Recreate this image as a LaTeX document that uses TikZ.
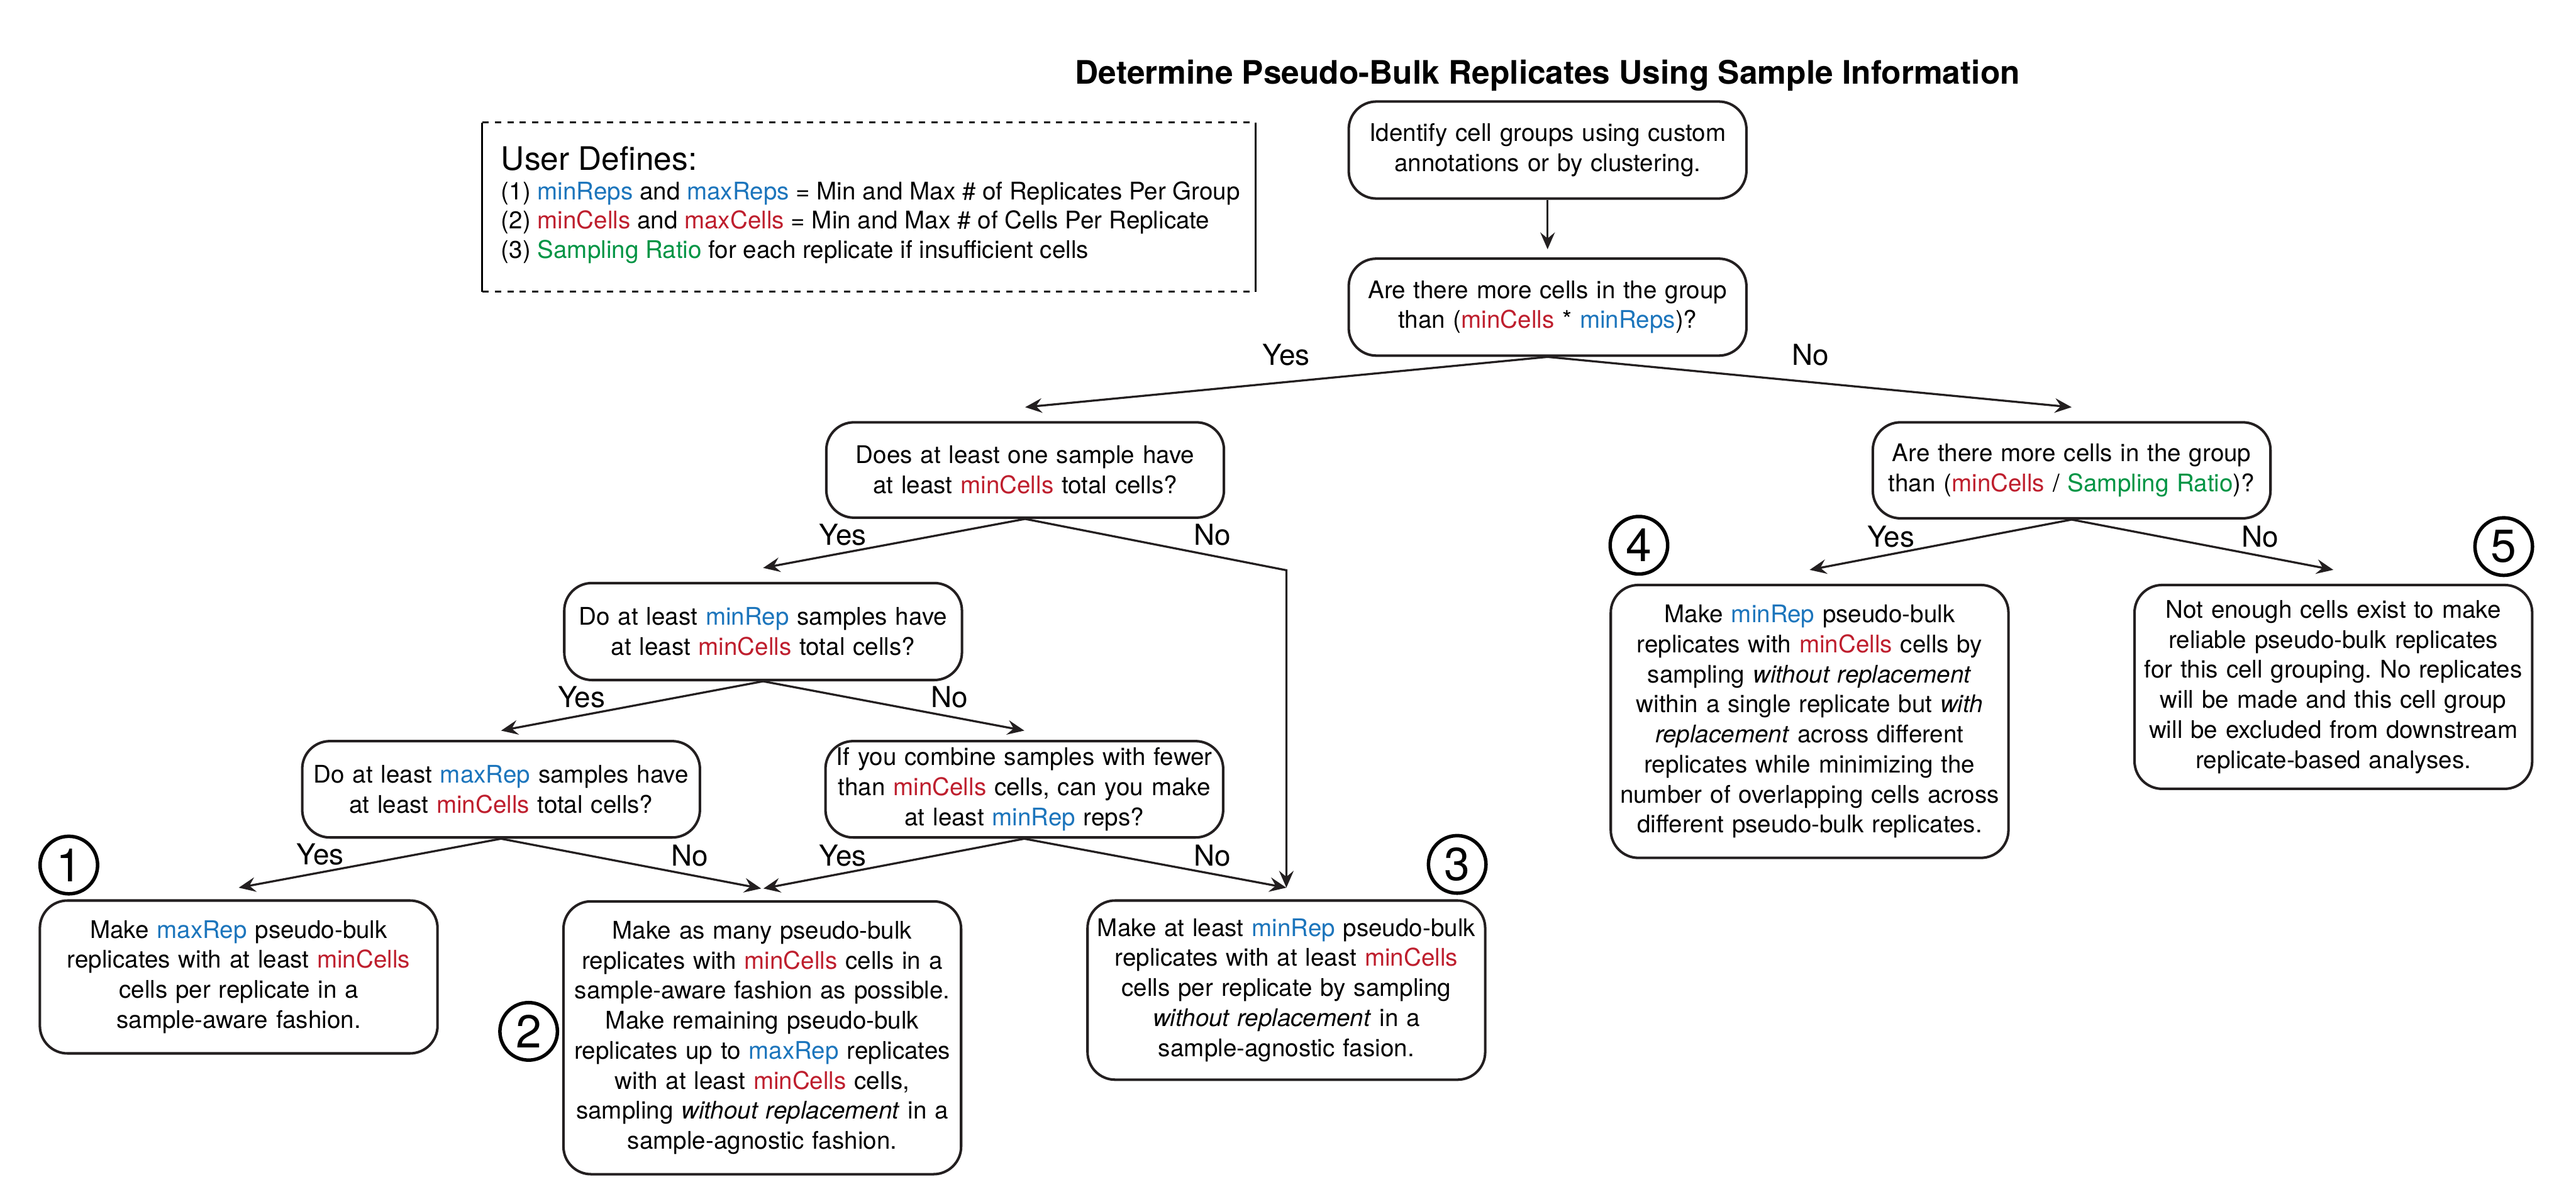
\documentclass[tikz,border=0pt]{standalone}
\usepackage{fontspec}
\setmainfont{TeX Gyre Heros}
\usetikzlibrary{arrows.meta}
\definecolor{cR}{HTML}{BE1E2D}
\definecolor{cB}{HTML}{1C75BC}
\definecolor{cG}{HTML}{009444}
\definecolor{ln}{HTML}{231F20}
\newcommand{\Rd}[1]{\textcolor{cR}{#1}}
\newcommand{\Bl}[1]{\textcolor{cB}{#1}}
\newcommand{\Gn}[1]{\textcolor{cG}{#1}}
\frenchspacing
\begin{document}
\begin{tikzpicture}[x=0.025cm,y=-0.025cm,
  box/.style={draw=ln, line width=1.1pt, rounded corners=0.42cm, align=center,
    text width=6.0cm, inner xsep=0.025cm, inner ysep=0pt,
    font=\fontsize{10.5}{13}\selectfont},
  arr/.style={-{Stealth[length=7.3pt,width=6.3pt,inset=2.6pt]}, line width=0.9pt, draw=ln},
  lab/.style={inner sep=0pt, font=\fontsize{12.5}{14}\selectfont},
  num/.style={circle, draw=black, line width=1.5pt, minimum size=0.875cm, inner sep=0pt,
    font=\fontsize{20}{20}\selectfont},
  leg/.style={anchor=base west, inner sep=0pt, font=\fontsize{10.5}{13}\selectfont},
  dashbox/.style={draw=black, line width=0.8pt}
]
\useasboundingbox (0,0) rectangle (1568,726.3);

% title
\node[anchor=base, inner sep=0pt, font=\fontsize{14}{16}\selectfont\bfseries] (title) at (942,51)
  {Determine Pseudo-Bulk Replicates Using Sample Information};

% legend
\draw[dashbox, dash pattern=on 2.7pt off 2.7pt] (293.6,74.5) -- (764.3,74.5);
\draw[dashbox, dash pattern=on 2.7pt off 2.7pt] (293.6,177.5) -- (764.3,177.5);
\draw[dashbox] (293.6,74.5) -- (293.6,177.5);
\draw[dashbox] (764.3,74.5) -- (764.3,177.5);
\node[leg, font=\fontsize{14}{16}\selectfont] (ud) at (304.8,103.5) {User Defines:};
\node[leg] (l1) at (304.8,121.5) {(1) \Bl{minReps} and \Bl{maxReps} = Min and Max \# of Replicates Per Group};
\node[leg] (l2) at (304.8,139.3) {(2) \Rd{minCells} and \Rd{maxCells} = Min and Max \# of Cells Per Replicate};
\node[leg] (l3) at (304.8,157.2) {(3) \Gn{Sampling Ratio} for each replicate if insufficient cells};

% boxes
\node[box, minimum height=1.475cm] (A) at (942,91.3)
  {Identify cell groups using custom\\annotations or by clustering.};
\node[box, minimum height=1.475cm] (B) at (942,186.9)
  {Are there more cells in the group\\than (\Rd{minCells} * \Bl{minReps})?};
\node[box, minimum height=1.45cm] (C) at (624,286)
  {Does at least one sample have\\at least \Rd{minCells} total cells?};
\node[box, minimum height=1.46cm] (D) at (1261,286.2)
  {Are there more cells in the group\\than (\Rd{minCells} / \Gn{Sampling Ratio})?};
\node[box, minimum height=1.475cm] (E) at (464.5,384.3)
  {Do at least \Bl{minRep} samples have\\at least \Rd{minCells} total cells?};
\node[box, minimum height=1.465cm] (F) at (305,480.3)
  {Do at least \Bl{maxRep} samples have\\at least \Rd{minCells} total cells?};
\node[box, minimum height=1.465cm] (G) at (623.5,480.3)
  {If you combine samples with fewer\\than \Rd{minCells} cells, can you make\\at least \Bl{minRep} reps?};
\node[box, minimum height=2.325cm] (R1) at (145.3,594.5)
  {Make \Bl{maxRep} pseudo-bulk\\replicates with at least \Rd{minCells}\\cells per replicate in a\\sample-aware fashion.};
\node[box, minimum height=4.15cm] (R2) at (464,631.5)
  {Make as many pseudo-bulk\\replicates with \Rd{minCells} cells in a\\sample-aware fashion as possible.\\Make remaining pseudo-bulk\\replicates up to \Bl{maxRep} replicates\\with at least \Rd{minCells} cells,\\sampling \emph{without replacement} in a\\sample-agnostic fashion.};
\node[box, minimum height=2.725cm] (R3) at (783,602.5)
  {Make at least \Bl{minRep} pseudo-bulk\\replicates with at least \Rd{minCells}\\cells per replicate by sampling\\\emph{without replacement} in a\\sample-agnostic fasion.};
\node[box, minimum height=4.15cm] (R4) at (1101.5,439)
  {Make \Bl{minRep} pseudo-bulk\\replicates with \Rd{minCells} cells by\\sampling \emph{without replacement}\\within a single replicate but \emph{with}\\\emph{replacement} across different\\replicates while minimizing the\\number of overlapping cells across\\different pseudo-bulk replicates.};
\node[box, minimum height=3.1cm] (R5) at (1420.3,418)
  {Not enough cells exist to make\\reliable pseudo-bulk replicates\\for this cell grouping. No replicates\\will be made and this cell group\\will be excluded from downstream\\replicate-based analyses.};

% numbers
\node[num] (n1) at (41.9,526.4) {1};
\node[num] (n2) at (321.8,627.6) {2};
\node[num] (n3) at (887,526) {3};
\node[num] (n4) at (997.6,331.8) {4};
\node[num] (n5) at (1524,332.6) {5};

% connectors
\draw[arr] (A.south) -- ([yshift=3.5pt]B.north);
\draw[arr] (B.south) -- ([yshift=6pt]C.north);
\draw[arr] (B.south) -- ([yshift=6pt]D.north);
\draw[arr] (C.south) -- ([yshift=6pt]E.north);
\coordinate (cbend) at (783,347);
\draw[arr] (C.south) -- (cbend) -- ([yshift=5pt]R3.north);
\draw[arr] (E.south) -- ([yshift=4pt]F.north);
\draw[arr] (E.south) -- ([yshift=4pt]G.north);
\draw[arr] (F.south) -- ([yshift=5pt]R1.north);
\draw[arr] (F.south) -- ([xshift=-0.5pt,yshift=5pt]R2.north);
\draw[arr] (G.south) -- ([xshift=0.5pt,yshift=5pt]R2.north);
\draw[arr] (G.south) -- ([yshift=5pt]R3.north);
\draw[arr] (D.south) -- ([yshift=6pt]R4.north);
\draw[arr] (D.south) -- ([yshift=6pt]R5.north);

% labels
\node[lab] (yB) at (783,216) {Yes};
\node[lab] (nB) at (1102,216) {No};
\node[lab] (yC) at (513,325.6) {Yes};
\node[lab] (nC) at (738,325.6) {No};
\node[lab] (yE) at (354,424) {Yes};
\node[lab] (nE) at (578,424) {No};
\node[lab] (yF) at (195,520) {Yes};
\node[lab] (nF) at (420,520.5) {No};
\node[lab] (yG) at (513,520.5) {Yes};
\node[lab] (nG) at (738,520.5) {No};
\node[lab] (yD) at (1151,326.5) {Yes};
\node[lab] (nD) at (1375.6,326.5) {No};
\end{tikzpicture}
\end{document}
